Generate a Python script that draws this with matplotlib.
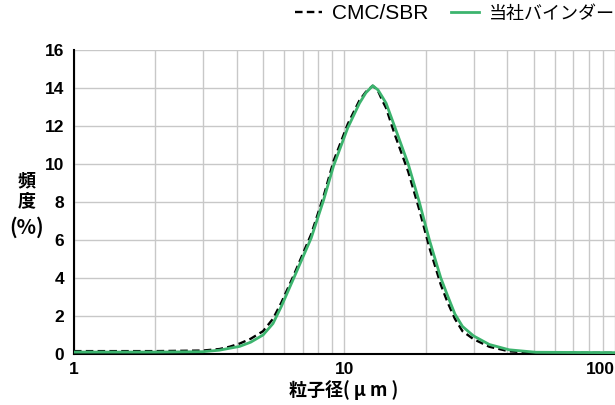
import matplotlib
matplotlib.use("Agg")
import matplotlib.pyplot as plt
from matplotlib.ticker import LogLocator, NullFormatter
from matplotlib.lines import Line2D

plt.rcParams['font.family'] = ['Liberation Sans', 'Noto Sans CJK JP']

# particle size (um) and frequency (%)
size_um = [1.0, 2.0, 3.0, 3.45, 3.76, 4.1, 4.5, 5.0, 5.44, 5.84, 6.45, 7.53,
           8.37, 9.11, 10.28, 11.36, 12.0, 12.72, 13.3, 13.84, 14.25, 15.3,
           17.2, 18.9, 20.6, 22.7, 24.0, 25.6, 27.3, 30.0, 34.3, 40.6, 51.0, 100.0]
cmc_sbr = [0.15, 0.15, 0.18, 0.26, 0.38, 0.55, 0.80, 1.20, 1.85, 2.70, 4.05, 6.3,
           8.3, 10.15, 12.1, 13.35, 13.8, 14.12, 13.85, 13.3, 12.95, 11.6,
           9.6, 7.6, 5.6, 3.65, 2.75, 1.85, 1.2, 0.78, 0.38, 0.14, 0.06, 0.06]
our_binder = [0.10, 0.10, 0.12, 0.20, 0.30, 0.40, 0.62, 1.00, 1.60, 2.50, 3.9, 6.1,
              8.1, 9.9, 11.9, 13.2, 13.75, 14.12, 13.9, 13.5, 13.2, 12.0,
              10.0, 8.0, 6.0, 4.0, 3.1, 2.1, 1.45, 0.95, 0.50, 0.22, 0.09, 0.07]

y_ticks = [0, 2, 4, 6, 8, 10, 12, 14, 16]
x_ticks = [1, 10, 100]
x_ticklabels = ['1', '10', '100']

GREEN = '#3cb46e'
GRID = '#c8c8c8'
DASH = (0, (3.2, 1.8))

fig = plt.figure(figsize=(6.15, 4.05), dpi=100)
ax = fig.add_axes([0.1203, 0.126, 0.8797, 0.7505])

ax.plot(size_um, cmc_sbr, color='black', lw=1.7, ls=DASH, zorder=3)
ax.plot(size_um, our_binder, color=GREEN, lw=2.0, zorder=4)

ax.set_xscale('log')
ax.set_xlim(1, 100)
ax.set_ylim(0, 16)
ax.set_yticks(y_ticks)
ax.set_xticks(x_ticks)
ax.set_xticklabels(x_ticklabels)
ax.xaxis.set_minor_locator(LogLocator(base=10, subs=range(2, 10)))
ax.xaxis.set_minor_formatter(NullFormatter())

ax.grid(True, which='both', axis='x', color=GRID, lw=1.0, zorder=0)
ax.grid(True, which='major', axis='y', color=GRID, lw=1.0, zorder=0)
ax.set_axisbelow(True)

for side in ['top', 'right']:
    ax.spines[side].set_visible(False)
for side in ['left', 'bottom']:
    ax.spines[side].set_color('black')
    ax.spines[side].set_linewidth(1.5)

ax.tick_params(axis='both', which='both', length=0)
ax.tick_params(axis='y', pad=7, labelsize=12.5)
ax.tick_params(axis='x', pad=6, labelsize=12.5)
for lab in ax.get_yticklabels() + ax.get_xticklabels():
    lab.set_fontweight('bold')
ax.get_xticklabels()[-1].set_horizontalalignment('right')

# axis titles
cjk = ['Noto Sans CJK JP', 'DejaVu Sans']
fig.text(0.5585, 1 - 390 / 405, '粒子径( μ m )', ha='center', va='center',
         fontsize=13, fontweight='bold', family=cjk)
fig.text(0.044, 1 - 181 / 405, '頻', ha='center', va='center',
         fontsize=13, fontweight='bold', family=cjk)
fig.text(0.044, 1 - 201 / 405, '度', ha='center', va='center',
         fontsize=13, fontweight='bold', family=cjk)
fig.text(0.044, 1 - 227 / 405, '(%)', ha='center', va='center',
         fontsize=14.5, fontweight='bold', family=cjk)

handles = [Line2D([], [], color='black', lw=1.7, ls=DASH),
           Line2D([], [], color=GREEN, lw=2.0)]
leg = fig.legend(handles, ['CMC/SBR', '当社バインダー'], loc='upper right',
                 bbox_to_anchor=(1.005, 1.0), ncol=2, frameon=False, fontsize=13,
                 handlelength=1.5, handletextpad=0.55, columnspacing=1.3,
                 borderaxespad=0.0, borderpad=0.2)
leg.get_texts()[0].set_fontsize(15)

fig.savefig('out.png', dpi=100)
